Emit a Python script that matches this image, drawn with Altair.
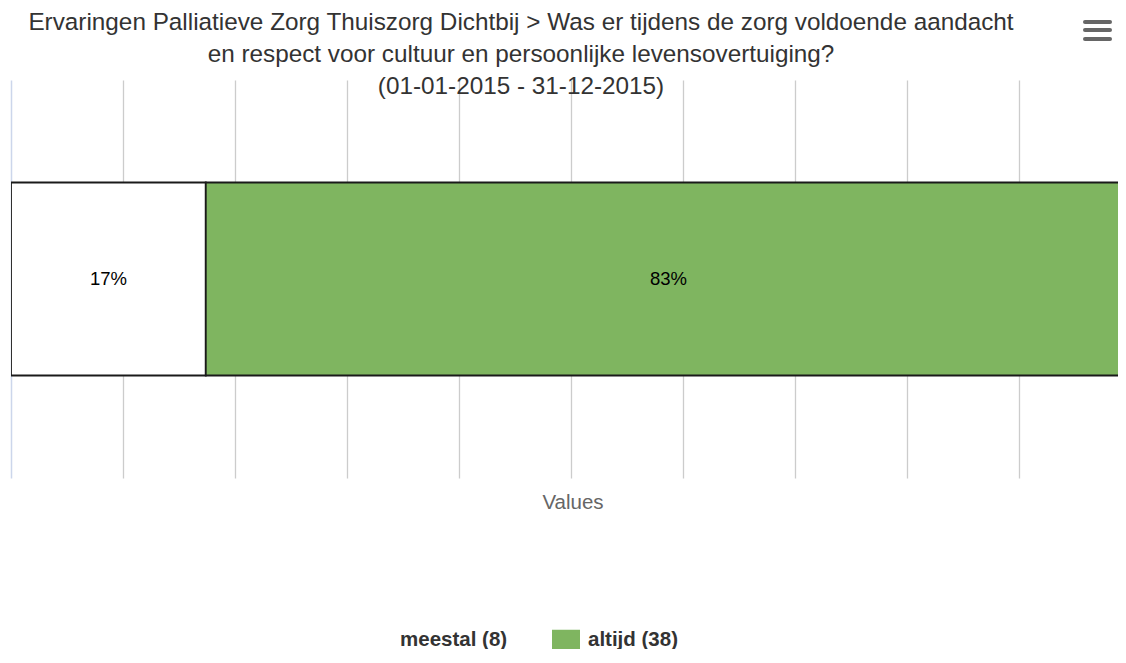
import altair as alt
import pandas as pd

# ---- data ----
question = ["Was er tijdens de zorg voldoende aandacht en respect"]
answers = ["meestal (8)", "altijd (38)"]
counts = [8, 38]
stack_order = [0, 1]
colors = ["#ffffff", "#7fb560"]
title_lines = [
    "Ervaringen Palliatieve Zorg Thuiszorg Dichtbij > Was er tijdens de zorg voldoende aandacht",
    "en respect voor cultuur en persoonlijke levensovertuiging?",
    "(01-01-2015 - 31-12-2015)",
]
grid_values = [0.1, 0.2, 0.3, 0.4, 0.5, 0.6, 0.7, 0.8, 0.9]

df = pd.DataFrame({
    "q": question * len(answers),
    "answer": answers,
    "count": counts,
    "order": stack_order,
})

FONT = "Liberation Sans"
W, H = 1107, 398
XMAX = W / 1120

x_axis = alt.Axis(
    values=grid_values, grid=True, gridColor="#cccccc", gridWidth=1.3,
    labels=False, ticks=False, domain=False, title="Values",
    titleColor="#666666", titleFontSize=20.5, titleFontWeight="normal",
    titleFont=FONT, titlePadding=14, titleX=561.5, titleAlign="center",
)
y_axis = alt.Axis(labels=False, ticks=False, title=None, grid=False,
                  domain=True, domainColor="#ccd6eb", domainWidth=1.5)

x_scale = alt.Scale(domain=[0, XMAX], nice=False, zero=True)
y_scale = alt.Scale(paddingInner=0, paddingOuter=0.531)

bars = alt.Chart(df).mark_bar(stroke="#1a1a1a", strokeWidth=1.8, clip=True).encode(
    x=alt.X("count:Q", stack="normalize", scale=x_scale, axis=x_axis),
    y=alt.Y("q:N", scale=y_scale, axis=y_axis),
    color=alt.Color(
        "answer:N",
        scale=alt.Scale(domain=answers, range=colors),
        legend=alt.Legend(
            title=None, orient="none", legendX=353, legendY=546,
            direction="horizontal",
            symbolType="M-1,-0.75L1,-0.75L1,0.75L-1,0.75Z",
            symbolSize=784, symbolStrokeWidth=0, symbolStrokeColor="transparent",
            labelFont=FONT, labelFontSize=20.5, labelFontWeight="bold",
            labelColor="#333333", labelOffset=8, columnPadding=44,
            labelLimit=400,
        ),
    ),
    order=alt.Order("order:Q"),
)

labels = alt.Chart(df).transform_joinaggregate(
    total="sum(count)"
).transform_window(
    cum="sum(count)", sort=[alt.SortField("order")], frame=[None, 0]
).transform_calculate(
    mid="(datum.cum - datum.count / 2) / datum.total",
    label="round(datum.count / datum.total * 100) + '%'",
).mark_text(font=FONT, fontSize=18.5, color="#000000", baseline="middle", align="center").encode(
    x=alt.X("mid:Q", scale=x_scale, axis=x_axis),
    y=alt.Y("q:N", scale=y_scale, axis=y_axis),
    text="label:N",
)

def menu_line(yv):
    return alt.Chart(alt.Data(values=[{}])).mark_rule(
        color="#666666", strokeWidth=4, strokeCap="round"
    ).encode(x=alt.value(1074), x2=alt.value(1099), y=alt.value(yv))

chart = alt.layer(
    bars, labels, menu_line(-58), menu_line(-50), menu_line(-41)
).properties(
    width=W, height=H,
    autosize=alt.AutoSizeParams(type="none"),
    padding={"left": 3, "top": 72, "right": 0, "bottom": 171},
    background="#ffffff",
    title=alt.Title(
        text=title_lines, font=FONT, fontSize=24.3, fontWeight="normal",
        color="#333333", lineHeight=32, anchor="middle", dx=-43.5, dy=83, offset=4,
    ),
).configure(font=FONT).configure_view(stroke=None, strokeWidth=0)

chart.save("out.html", embed_options={"renderer": "svg", "actions": False})
